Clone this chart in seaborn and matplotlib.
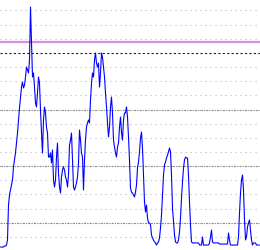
import numpy as np
import pandas as pd
import seaborn as sns
import matplotlib
matplotlib.use("Agg")
import matplotlib.pyplot as plt

# values, one per pixel column
level = [
    2.8, 2.8, 2.8, 2.8, 3.5, 3.5, 4.2, 7.8, 32.5, 39.6,
    43.1, 46.6, 50.2, 59.4, 64.3, 69.3, 76.3, 83.4, 92.6, 101.1,
    108.8, 115.9, 119.4, 115.2, 117.3, 123.0, 130.0, 127.9, 125.8, 135.0,
    172.4, 147.0, 123.0, 125.8, 115.9, 104.6, 101.8, 111.7, 123.0, 118.7,
    99.6, 83.4, 69.3, 92.6, 101.8, 97.5, 87.6, 83.4, 66.4, 66.4,
    69.3, 62.2, 71.4, 50.2, 45.2, 50.2, 66.4, 76.3, 55.1, 45.2,
    41.0, 52.3, 57.2, 59.4, 57.2, 52.3, 50.2, 45.2, 53.7, 74.9,
    78.4, 83.4, 64.3, 45.2, 43.1, 45.2, 48.1, 52.3, 62.2, 85.5,
    78.4, 69.3, 66.4, 43.1, 64.3, 78.4, 87.6, 90.5, 92.6, 90.5,
    106.7, 118.7, 125.8, 123.0, 135.0, 139.9, 132.9, 130.0, 132.9, 115.9,
    125.8, 139.9, 137.0, 130.0, 123.0, 111.7, 101.8, 90.5, 80.6, 87.6,
    101.8, 108.8, 97.5, 78.4, 73.5, 69.3, 66.4, 73.5, 76.3, 87.6,
    94.7, 83.4, 78.4, 92.6, 97.5, 97.5, 101.8, 94.7, 80.6, 64.3,
    44.5, 41.7, 41.0, 39.6, 38.2, 41.7, 46.6, 58.7, 62.9, 70.0,
    79.9, 84.1, 72.8, 53.7, 34.6, 27.6, 32.5, 23.3, 19.8, 19.8,
    18.4, 11.3, 9.2, 7.8, 6.4, 5.7, 4.2, 5.7, 6.4, 9.2,
    16.3, 25.4, 39.6, 53.7, 60.8, 62.9, 65.7, 67.8, 70.0, 72.8,
    70.0, 53.7, 30.4, 20.5, 11.3, 6.4, 5.7, 5.7, 7.8, 13.4,
    23.3, 37.5, 48.8, 58.7, 64.3, 66.4, 65.7, 65.7, 53.7, 34.6,
    18.4, 6.4, 5.7, 5.7, 5.7, 5.7, 5.7, 5.7, 5.7, 4.2,
    4.2, 4.2, 9.9, 4.2, 4.2, 4.2, 4.2, 4.2, 4.2, 5.7,
    9.9, 14.8, 6.4, 5.7, 5.7, 5.7, 5.7, 5.7, 5.7, 4.9,
    4.9, 4.9, 4.9, 4.9, 4.9, 4.9, 4.9, 4.9, 12.7, 7.8,
    4.2, 4.2, 4.2, 4.2, 4.2, 4.2, 4.2, 4.2, 9.9, 26.9,
    41.0, 50.2, 53.7, 43.1, 21.9, 7.8, 9.9, 17.0, 19.8, 21.9,
    14.8, 7.8, 4.2, 5.7, 5.7, 5.7, 4.2, 4.2, 4.2, 4.2,
]
minor_levels = [10, 30, 40, 50, 70, 80, 90, 110, 120, 130, 150, 160, 170]
major_levels = [20, 60, 100]
black_level = 140
limit_level = 148

df = pd.DataFrame({"t": np.arange(len(level)), "v": level})

sns.set_style("white")
fig = plt.figure(figsize=(2.6, 2.5), dpi=100)
ax = fig.add_axes([0, 0, 1, 1])

for lv in minor_levels:
    ax.axhline(lv, color="#b8b8b8", lw=0.8, ls=(0, (1, 3.5)), zorder=1)
for lv in major_levels:
    ax.axhline(lv, color="#8a8a8a", lw=0.8, ls=(0, (2, 1, 1, 1)), zorder=1)
ax.axhline(black_level, color="#202020", lw=0.8, ls=(0, (2, 2)), zorder=1)
ax.axhline(limit_level, color="#d38ee6", lw=1.6, zorder=2)

sns.lineplot(data=df, x="t", y="v", ax=ax, color="#0000ff", lw=0.8, zorder=3)

ax.set_xlim(-0.5, 259.5)
ax.set_ylim(0.7, 177.4)
ax.set_xticks([])
ax.set_yticks([])
ax.set_xlabel("")
ax.set_ylabel("")
for s in ax.spines.values():
    s.set_visible(False)

fig.savefig("out.png", dpi=100)
